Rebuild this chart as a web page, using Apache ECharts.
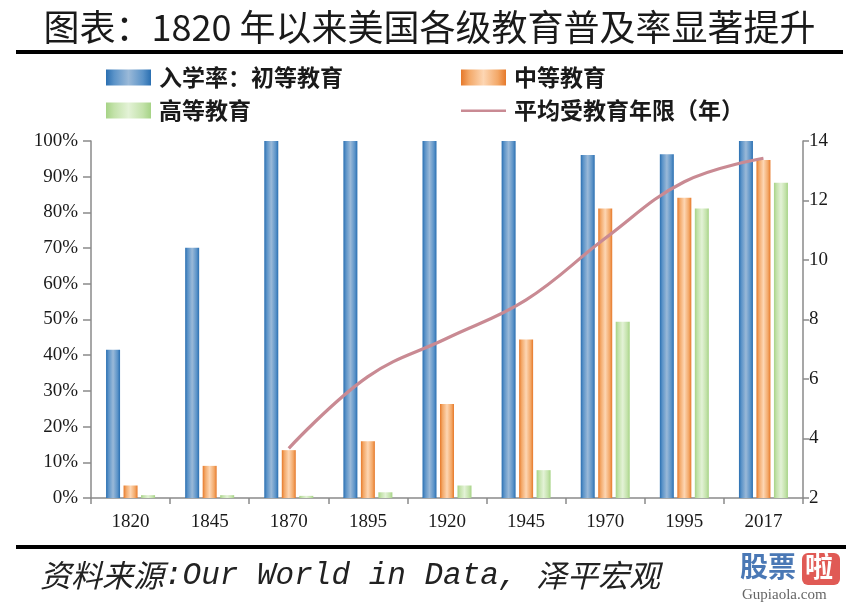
<!DOCTYPE html>
<html>
<head>
<meta charset="utf-8">
<script src="https://cdn.jsdelivr.net/npm/echarts@6.0.0/dist/echarts.min.js"></script>
<style>
html,body{margin:0;padding:0;background:#fff;}
#chart{width:859px;height:608px;}
</style>
</head>
<body>
<div id="chart"></div>
<script>
// ---- data ----
var categories = ['1820','1845','1870','1895','1920','1945','1970','1995','2017'];
var primaryRate = [41.5, 70.1, 100, 100, 100, 100, 96.1, 96.3, 100];
var secondaryRate = [3.5, 9.0, 13.4, 15.9, 26.3, 44.4, 81.1, 84.1, 94.7];
var tertiaryRate = [0.8, 0.8, 0.6, 1.6, 3.5, 7.8, 49.4, 81.1, 88.3];
var avgYears = [null, null, 3.67, 6.08, 7.37, 8.66, 10.73, 12.63, 13.42];
var seriesNames = ['入学率：初等教育', '中等教育', '高等教育', '平均受教育年限（年）'];
var leftTicks = {min: 0, max: 100, interval: 10};
var rightTicks = {min: 2, max: 14, interval: 2};

function grad(edge, mid, inner) {
  return new echarts.graphic.LinearGradient(0, 0, 1, 0, [
    {offset: 0, color: edge},
    {offset: 0.18, color: inner},
    {offset: 0.5, color: mid},
    {offset: 0.82, color: inner},
    {offset: 1, color: edge}
  ]);
}
var blue = grad('#2a6fb1', '#9ab9d8', '#5b93c8');
var orange = grad('#e6792a', '#fdd6b3', '#f3a868');
var green = grad('#a6d386', '#e3f2d6', '#c3e2aa');
var lineColor = '#c98a93';

var serif = 'Liberation Serif, Times New Roman, serif';
var cjk = 'Noto Sans CJK SC, sans-serif';

var chart = echarts.init(document.getElementById('chart'), null, {renderer: 'canvas'});
var legendText = {fontFamily: cjk, fontSize: 23, fontWeight: 'bold', color: '#1a1a1a', padding: [0, 0, 0, 3]};
var option = {
  backgroundColor: '#ffffff',
  animation: false,
  grid: {left: 91, right: 56, top: 141, bottom: 110},
  legend: [
    {
      orient: 'vertical', left: 101, top: 61, itemWidth: 45, itemHeight: 16, itemGap: 10,
      icon: 'rect',
      textStyle: legendText,
      data: [seriesNames[0], seriesNames[2]]
    },
    {
      orient: 'vertical', left: 456, top: 61, itemWidth: 45, itemHeight: 16, itemGap: 10,
      icon: 'rect',
      textStyle: legendText,
      data: [seriesNames[1], {name: seriesNames[3], icon: 'path://M0,0M45,16M0,7L45,7L45,9.5L0,9.5Z'}]
    }
  ],
  xAxis: {
    type: 'category',
    data: categories,
    boundaryGap: true,
    axisLine: {lineStyle: {color: '#8a8a8a', width: 1.5}},
    axisTick: {show: true, length: 6, lineStyle: {color: '#8a8a8a', width: 1.5}},
    axisLabel: {fontFamily: serif, fontSize: 19, color: '#1a1a1a', margin: 15}
  },
  yAxis: [
    {
      type: 'value', min: leftTicks.min, max: leftTicks.max, interval: leftTicks.interval,
      splitLine: {show: false},
      axisLine: {show: true, lineStyle: {color: '#8a8a8a', width: 1.5}},
      axisTick: {show: true, length: 8, lineStyle: {color: '#8a8a8a', width: 1.5}},
      axisLabel: {fontFamily: serif, fontSize: 19, color: '#1a1a1a', margin: 13, formatter: '{value}%'}
    },
    {
      type: 'value', min: rightTicks.min, max: rightTicks.max, interval: rightTicks.interval,
      position: 'right',
      splitLine: {show: false},
      axisLine: {show: true, lineStyle: {color: '#8a8a8a', width: 1.5}},
      axisTick: {show: true, length: 6, lineStyle: {color: '#8a8a8a', width: 1.5}},
      axisLabel: {fontFamily: serif, fontSize: 19, color: '#1a1a1a', margin: 6}
    }
  ],
  series: [
    {name: seriesNames[0], type: 'bar', data: primaryRate, barWidth: 14, barGap: '25%', itemStyle: {color: blue}},
    {name: seriesNames[1], type: 'bar', data: secondaryRate, barWidth: 14, barGap: '25%', itemStyle: {color: orange}},
    {name: seriesNames[2], type: 'bar', data: tertiaryRate, barWidth: 14, barGap: '25%', itemStyle: {color: green}},
    {name: seriesNames[3], type: 'line', yAxisIndex: 1, data: avgYears, smooth: 0.4, symbol: 'none',
     connectNulls: false, z: 5, itemStyle: {color: lineColor}, lineStyle: {color: lineColor, width: 3.2}}
  ],
  graphic: [
    {type: 'text', left: 'center', top: 9, style: {text: '图表：1820 年以来美国各级教育普及率显著提升', fontFamily: cjk, fontSize: 36, fill: '#1a1a1a'}},
    {type: 'rect', shape: {x: 16, y: 50, width: 827, height: 4}, style: {fill: '#000'}},
    {type: 'rect', shape: {x: 16, y: 545, width: 830, height: 4}, style: {fill: '#000'}},
    {type: 'text', left: 40, top: 560, style: {
      text: '{c|资料来源}{m|:Our World in Data, }{c|泽平宏观}',
      rich: {
        c: {fontFamily: cjk, fontSize: 31, fontStyle: 'italic', fill: '#222'},
        m: {fontFamily: 'Liberation Mono, monospace', fontSize: 31, fontStyle: 'italic', fill: '#222'}
      }
    }},
    {type: 'text', left: 740, top: 552, style: {text: '股票', fontFamily: cjk, fontSize: 28, fontWeight: 'bold', fill: '#4a78b5'}},
    {type: 'rect', shape: {x: 802, y: 553, width: 38, height: 32, r: 6}, style: {fill: '#e05a55'}},
    {type: 'text', left: 805, top: 552, style: {text: '啦', fontFamily: cjk, fontSize: 28, fontWeight: 'bold', fill: '#fff'}},
    {type: 'text', left: 742, top: 588, style: {text: 'Gupiaola.com', fontFamily: serif, fontSize: 15, fill: '#666'}}
  ]
};
chart.setOption(option);
</script>
</body>
</html>
